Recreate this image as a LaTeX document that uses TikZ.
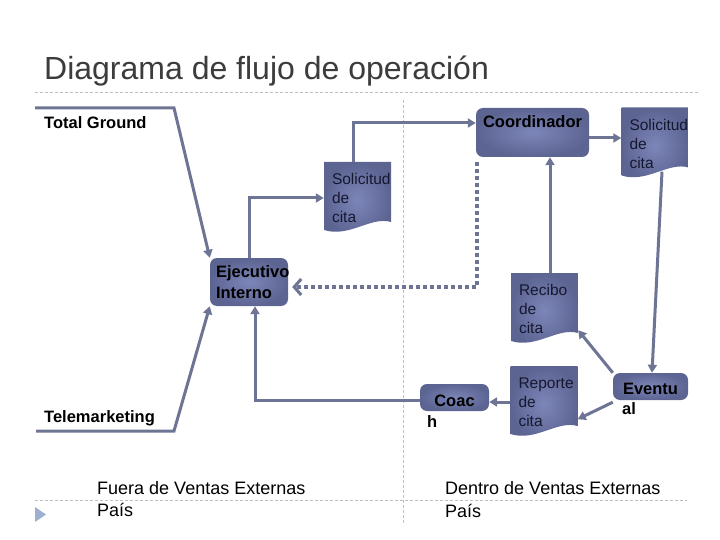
\documentclass[tikz,border=0pt]{standalone}
\usepackage{fontspec}
\setmainfont{Liberation Sans}
\usetikzlibrary{arrows.meta,calc}
\definecolor{lnc}{RGB}{110,116,148}
\definecolor{boxin}{RGB}{124,134,184}
\definecolor{boxout}{RGB}{92,100,146}
\definecolor{doctext}{RGB}{22,24,48}
\definecolor{sepgray}{RGB}{190,190,190}
\definecolor{bulletc}{RGB}{157,176,207}
\definecolor{titlec}{RGB}{60,60,60}
\newcommand\lblfont{\fontsize{16.5}{21}\selectfont\bfseries}
\newcommand\docfont{\fontsize{15.5}{19}\selectfont}
\newcommand\botfont{\fontsize{18}{22.5}\selectfont}
\newcommand\ttlfont{\fontsize{32}{36}\selectfont}
\begin{document}
\begin{tikzpicture}[x=1pt,y=-1pt,
  conn/.style={draw=lnc, line width=3pt},
  arr/.style={-{Triangle[length=8pt,width=9pt]}},
  dotc/.style={draw=lnc, line width=4.5pt, dash pattern=on 4pt off 3pt,
    -{Straight Barb[length=7pt,width=16pt,line width=3pt]}},
  sep/.style={draw=sepgray, line width=0.8pt, dash pattern=on 3pt off 2pt},
  box/.style={rectangle, rounded corners=7pt, inner color=boxin, outer color=boxout,
    text=black, font=\lblfont, inner sep=0pt},
  docn/.style={rectangle, inner xsep=8pt, inner ysep=0pt, minimum width=67pt,
    minimum height=72pt, text width=51pt, align=left, text=doctext, font=\docfont,
    path picture={\shade[inner color=boxin, outer color=boxout]
      (path picture bounding box.north west) -- (path picture bounding box.north east)
      -- ([yshift=12pt]path picture bounding box.south east)
      .. controls ([xshift=-20pt,yshift=18pt]path picture bounding box.south east)
      and ([xshift=25pt,yshift=-4pt]path picture bounding box.south west)
      .. ([yshift=4pt]path picture bounding box.south west) -- cycle;}},
  lbl/.style={font=\lblfont, text=black, inner sep=0pt, anchor=base west},
  botl/.style={font=\botfont, text=black, inner sep=0pt, anchor=base west, align=left},
  ]
\useasboundingbox (0,0) rectangle (720,540);

% separators
\draw[sep] (35,92) -- (700,92);
\draw[sep] (403,100) -- (403,525);
\draw[sep] (35,500) -- (687,500);
\fill[bulletc] (35,507) -- (46,514.5) -- (35,522) -- cycle;

% title
\node[font=\ttlfont, text=titlec, anchor=base west, inner sep=0pt] (title) at (44,80) {Diagrama de flujo de operación};

% labels
\node[lbl] (tg) at (44,129) {Total Ground};
\node[lbl] (tm) at (44,422.5) {Telemarketing};
\node[botl] (fuera) at (97,516.5) {Fuera de Ventas Externas\\País};
\node[botl] (dentro) at (445,517) {Dentro de Ventas Externas\\País};

% boxes
\node[box, minimum width=113pt, minimum height=49pt, text height=12pt, text depth=21pt] (coord) at (532.5,132.5) {Coordinador};
\node[box, minimum width=78pt, minimum height=48pt, inner xsep=6pt, text width=66pt, align=left] (ejec) at (249,282) {Ejecutivo\\Interno};
\node[box, minimum width=69pt, minimum height=27pt, text height=17pt, text depth=0pt] (coach) at (454.5,397.5) {Coac};
\node[lbl] (coachh) at (427,427) {h};
\node[box, minimum width=75pt, minimum height=27pt, text height=15pt, text depth=0pt] (eventual) at (650.5,386.5) {Eventu};
\node[lbl] (evental) at (622,414) {al};

% documents
\node[docn] (sol1) at (357.5,198) {Solicitud\\de\\cita};
\node[docn] (sol2) at (655,143.5) {Solicitud\\de\\cita};
\node[docn] (recibo) at (544.5,309) {Recibo\\de\\cita};
\node[docn] (reporte) at (544,402) {Reporte\\de\\cita};

% connectors
\coordinate (tg0) at (35,108);
\coordinate (tg1) at (174,108);
\coordinate (tm0) at (36,431);
\coordinate (tm1) at (174,431);
\draw[conn,arr] (tg0) -- (tg1) -- (ejec.north west);
\draw[conn,arr] (tm0) -- (tm1) -- (ejec.south west);
\draw[conn,arr] (ejec.north) |- (sol1.west);
\draw[conn,arr] ([xshift=-4.5pt]sol1.north) |- ([yshift=9.5pt]coord.west);
\draw[conn,arr] ([yshift=-5.5pt]coord.east) -- ([yshift=-5.5pt]coord.east -| sol2.west);
\draw[dotc] ([xshift=1pt,yshift=-5pt]coord.south west) |- ([xshift=4pt,yshift=-5pt]ejec.east);
\draw[conn,arr] ([xshift=5.5pt]recibo.north) -- ([xshift=5.5pt]recibo.north |- coord.south);
\draw[conn,arr] ([xshift=7pt,yshift=8pt]sol2.south) -- ([xshift=1.5pt]eventual.north);
\draw[conn,arr] (eventual.north west) -- ([yshift=15pt]recibo.south east);
\draw[conn,arr] ([yshift=-2pt]eventual.south west) -- ([yshift=19pt]reporte.south east);
\draw[conn,arr] (reporte.west) -- (reporte.west -| coach.east);
\draw[conn,arr] ([yshift=-2.5pt]coach.west) -| ([xshift=6pt]ejec.south);
\end{tikzpicture}
\end{document}
